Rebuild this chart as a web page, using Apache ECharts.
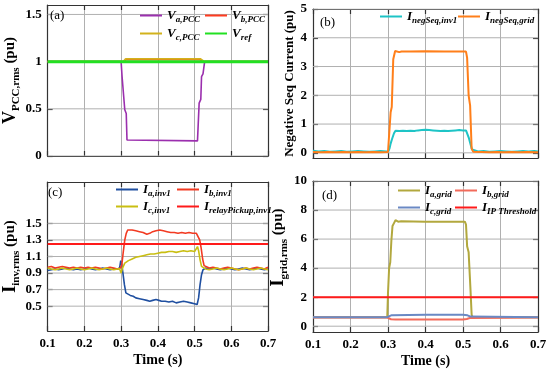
<!DOCTYPE html>
<html><head><meta charset="utf-8">
<script src="https://cdn.jsdelivr.net/npm/echarts@6/dist/echarts.min.js"></script>
<style>html,body{margin:0;padding:0;background:#fff}#c{width:550px;height:369px}</style>
</head><body><div id="c"></div>
<script>
// ---------- data ----------
const timeTicks = [0.1, 0.2, 0.3, 0.4, 0.5, 0.6, 0.7];
const yTicksA = [0, 0.5, 1, 1.5];
const yTicksB = [0, 1, 2, 3, 4, 5];
const yTicksC = [0.5, 0.7, 0.9, 1.1, 1.3, 1.5];
const yTicksD = [0, 2, 4, 6, 8, 10];

// (a) PCC voltages
const vaPCC = [[0.1,1],[0.3,1],[0.3027,0.84],[0.307,0.83],[0.31,0.49],[0.314,0.45],[0.316,0.17],[0.318,0.16],[0.508,0.16],[0.51,0.17],[0.5125,0.56],[0.517,0.6],[0.519,0.84],[0.523,0.87],[0.5275,1],[0.7,1]];
const vbPCC = [[0.1,1],[0.306,1],[0.313,1.02],[0.515,1.02],[0.525,1],[0.7,1]];
const vcPCC = [[0.1,1],[0.306,1],[0.3125,1.03],[0.5155,1.03],[0.527,1],[0.7,1]];
const vRef = [[0.1,1],[0.7,1]];

// (b) negative sequence currents
const iNegInv1 = [[0.1,0.07],[0.115,0.05],[0.13,0.06],[0.145,0.04],[0.16,0.05],[0.175,0.06],[0.19,0.04],[0.205,0.05],[0.22,0.06],[0.235,0.05],[0.25,0.04],[0.265,0.05],[0.28,0.06],[0.295,0.05],[0.301,0.05],[0.304,0.15],[0.307,0.32],[0.311,0.49],[0.316,0.68],[0.32,0.77],[0.33,0.76],[0.34,0.77],[0.35,0.76],[0.36,0.77],[0.37,0.76],[0.38,0.78],[0.39,0.79],[0.4,0.8],[0.41,0.79],[0.42,0.78],[0.43,0.77],[0.44,0.76],[0.45,0.77],[0.46,0.76],[0.47,0.77],[0.48,0.78],[0.49,0.79],[0.5,0.78],[0.508,0.78],[0.512,0.72],[0.516,0.5],[0.52,0.3],[0.524,0.12],[0.528,0.06],[0.54,0.05],[0.555,0.06],[0.57,0.04],[0.585,0.05],[0.6,0.06],[0.615,0.05],[0.63,0.04],[0.645,0.05],[0.66,0.06],[0.675,0.05],[0.69,0.06],[0.7,0.05]];
const iNegGrid = [[0.1,0.03],[0.12,0.02],[0.14,0.03],[0.16,0.02],[0.18,0.03],[0.2,0.02],[0.22,0.03],[0.24,0.02],[0.26,0.03],[0.28,0.02],[0.3,0.03],[0.302,0.06],[0.307,1.41],[0.31,1.59],[0.314,3.25],[0.319,3.54],[0.324,3.6],[0.33,3.5],[0.336,3.52],[0.36,3.52],[0.4,3.53],[0.45,3.52],[0.508,3.52],[0.511,3.3],[0.515,2.0],[0.519,1.64],[0.523,0.15],[0.527,0.04],[0.55,0.03],[0.57,0.02],[0.59,0.03],[0.61,0.02],[0.63,0.03],[0.65,0.02],[0.67,0.03],[0.7,0.02]];

// (c) inverter currents
const iaInv1 = [[0.1,0.93],[0.11,0.94],[0.12,0.95],[0.13,0.94],[0.14,0.95],[0.15,0.96],[0.16,0.95],[0.17,0.94],[0.18,0.95],[0.19,0.94],[0.2,0.95],[0.21,0.96],[0.22,0.95],[0.23,0.94],[0.24,0.95],[0.25,0.96],[0.26,0.95],[0.27,0.94],[0.28,0.95],[0.29,0.95],[0.296,0.96],[0.299,1.05],[0.302,1.0],[0.305,0.9],[0.309,0.76],[0.313,0.66],[0.318,0.64],[0.325,0.63],[0.333,0.62],[0.34,0.6],[0.35,0.59],[0.36,0.58],[0.37,0.57],[0.378,0.56],[0.386,0.57],[0.395,0.58],[0.403,0.57],[0.41,0.56],[0.42,0.56],[0.43,0.55],[0.44,0.56],[0.45,0.54],[0.46,0.55],[0.47,0.56],[0.48,0.55],[0.49,0.54],[0.5,0.53],[0.507,0.52],[0.511,0.6],[0.515,0.76],[0.519,0.88],[0.523,0.94],[0.53,0.96],[0.54,0.95],[0.55,0.96],[0.56,0.95],[0.57,0.94],[0.58,0.95],[0.59,0.96],[0.6,0.95],[0.61,0.94],[0.62,0.95],[0.63,0.96],[0.64,0.95],[0.65,0.94],[0.66,0.95],[0.67,0.96],[0.68,0.95],[0.69,0.94],[0.7,0.95]];
const ibInv1 = [[0.1,0.97],[0.11,0.98],[0.12,0.96],[0.13,0.97],[0.14,0.98],[0.15,0.97],[0.16,0.96],[0.17,0.97],[0.18,0.96],[0.19,0.97],[0.2,0.96],[0.21,0.97],[0.22,0.96],[0.23,0.97],[0.24,0.96],[0.25,0.95],[0.26,0.96],[0.27,0.97],[0.28,0.96],[0.29,0.95],[0.298,0.96],[0.302,1.0],[0.306,1.16],[0.31,1.3],[0.314,1.38],[0.318,1.42],[0.323,1.43],[0.33,1.42],[0.34,1.41],[0.35,1.4],[0.36,1.39],[0.37,1.37],[0.378,1.38],[0.386,1.4],[0.395,1.41],[0.405,1.42],[0.415,1.41],[0.425,1.4],[0.435,1.39],[0.445,1.39],[0.455,1.38],[0.465,1.39],[0.475,1.38],[0.485,1.39],[0.495,1.38],[0.505,1.38],[0.51,1.36],[0.514,1.3],[0.518,1.2],[0.522,1.07],[0.526,0.99],[0.53,0.97],[0.54,0.96],[0.55,0.97],[0.56,0.96],[0.57,0.95],[0.58,0.96],[0.59,0.97],[0.6,0.96],[0.61,0.95],[0.62,0.94],[0.63,0.95],[0.64,0.96],[0.65,0.95],[0.66,0.96],[0.67,0.97],[0.68,0.96],[0.69,0.95],[0.7,0.97]];
const icInv1 = [[0.1,0.96],[0.11,0.95],[0.12,0.94],[0.13,0.95],[0.14,0.96],[0.15,0.95],[0.16,0.94],[0.17,0.95],[0.18,0.96],[0.19,0.95],[0.2,0.94],[0.21,0.95],[0.22,0.96],[0.23,0.95],[0.24,0.94],[0.25,0.95],[0.26,0.96],[0.27,0.95],[0.28,0.94],[0.29,0.95],[0.296,0.95],[0.3,0.9],[0.303,0.95],[0.306,0.98],[0.31,1.02],[0.315,1.04],[0.32,1.05],[0.33,1.07],[0.34,1.09],[0.35,1.1],[0.36,1.11],[0.37,1.12],[0.38,1.13],[0.39,1.13],[0.4,1.14],[0.41,1.15],[0.42,1.15],[0.43,1.16],[0.44,1.16],[0.45,1.15],[0.46,1.16],[0.47,1.17],[0.48,1.16],[0.49,1.17],[0.5,1.16],[0.505,1.18],[0.508,1.22],[0.511,1.17],[0.515,1.06],[0.519,0.98],[0.523,0.96],[0.53,0.95],[0.54,0.94],[0.55,0.95],[0.56,0.96],[0.57,0.95],[0.58,0.94],[0.59,0.95],[0.6,0.96],[0.61,0.95],[0.62,0.94],[0.63,0.95],[0.64,0.96],[0.65,0.95],[0.66,0.94],[0.67,0.95],[0.68,0.96],[0.69,0.95],[0.7,0.94]];
const iRelayPickup = [[0.1,1.25],[0.7,1.25]];

// (d) grid currents
const iaGrid = [[0.1,0.62],[0.298,0.62],[0.3,2.3],[0.303,4.0],[0.306,4.4],[0.309,5.9],[0.312,6.9],[0.316,7.1],[0.32,7.3],[0.323,7.35],[0.327,7.2],[0.33,7.15],[0.335,7.22],[0.4,7.2],[0.505,7.2],[0.508,7.0],[0.511,5.5],[0.515,5.1],[0.52,2.5],[0.523,0.8],[0.525,0.62],[0.7,0.62]];
const ibGrid = [[0.1,0.6],[0.298,0.6],[0.302,0.55],[0.308,0.48],[0.32,0.46],[0.5,0.46],[0.51,0.5],[0.518,0.56],[0.523,0.6],[0.7,0.6]];
const icGrid = [[0.1,0.62],[0.298,0.62],[0.303,0.7],[0.31,0.76],[0.4,0.79],[0.5,0.78],[0.512,0.75],[0.52,0.66],[0.523,0.62],[0.7,0.62]];
const iIPThreshold = [[0.1,2],[0.7,2]];

// ---------- styling / layout ----------
const FONT = 'Liberation Serif';
const AX = {color:'#333333', width:1.2};
const GRIDC = '#b0b0b0';
const GRIDW = 1;
const grids = [
  {left:43, top:5, width:225, height:151},
  {left:313, top:9, width:225, height:149},
  {left:42, top:182, width:226, height:149},
  {left:313, top:181, width:225, height:151}
];
const yRanges = [[0, 1.6], [-0.18, 5], [0.2, 2.0], [-0.4, 10]];
const yTickSets = [yTicksA, yTicksB, yTicksC, yTicksD];

function xAxesFor(gi, showLabels) {
  return [
    {type:'value', gridIndex:gi, min:0.1, max:0.7, interval:0.1, position:'bottom',
     axisLine:{show:true, onZero:false, lineStyle:AX},
     axisTick:{show:true, inside:true, length:5, lineStyle:AX},
     axisLabel:{show:showLabels, color:'#000', fontFamily:FONT, fontWeight:'bold', fontSize:13, margin:6, formatter:v=>v.toFixed(1)},
     splitLine:{show:true, lineStyle:{color:GRIDC, width:GRIDW, type:'solid', opacity:1}},
     name: showLabels ? 'Time (s)' : '', nameLocation:'middle', nameGap:22,
     nameTextStyle:{color:'#000', fontFamily:FONT, fontWeight:'bold', fontSize:14}},
    {type:'value', gridIndex:gi, min:0.1, max:0.7, interval:0.1, position:'top',
     axisLine:{show:true, onZero:false, lineStyle:AX},
     axisTick:{show:true, inside:true, length:5, lineStyle:AX},
     axisLabel:{show:false}, splitLine:{show:false}}
  ];
}
function yAxesFor(gi, ticks, name, gap, nameStyle) {
  const [min, max] = yRanges[gi];
  return [
    {type:'value', gridIndex:gi, min:min, max:max, position:'left',
     axisLine:{show:true, onZero:false, lineStyle:AX},
     axisTick:{show:true, inside:true, length:5, lineStyle:AX, customValues:ticks},
     axisLabel:{customValues:ticks, color:'#000', fontFamily:FONT, fontWeight:'bold', fontSize:13, margin:6},
     splitLine:{show:false},
     name:name, nameLocation:'middle', nameGap:gap, nameRotate:90, nameTextStyle:nameStyle},
    {type:'value', gridIndex:gi, min:min, max:max, position:'right',
     axisLine:{show:true, onZero:false, lineStyle:AX},
     axisTick:{show:true, inside:true, length:5, lineStyle:AX, customValues:ticks},
     axisLabel:{show:false}, splitLine:{show:false}}
  ];
}
const subName = () => ({
  color:'#000', fontFamily:FONT, fontWeight:'bold',
  rich:{
    m:{fontSize:18, fontWeight:'bold', fontFamily:FONT, color:'#000'},
    s:{fontSize:11, fontWeight:'bold', fontFamily:FONT, color:'#000', padding:[12,0,0,0]},
    n:{fontSize:15, fontWeight:'bold', fontFamily:FONT, color:'#000'},
    g:{width:18}
  }
});

const xAxis = [].concat(xAxesFor(0,false), xAxesFor(1,false), xAxesFor(2,true), xAxesFor(3,true));
const yAxis = [].concat(
  yAxesFor(0, yTicksA, '{m|V}{s|PCC,rms}{n| (pu)}', 22, subName()),
  yAxesFor(1, yTicksB, 'Negative Seq Current (pu)', 16, {color:'#000', fontFamily:FONT, fontWeight:'bold', fontSize:13}),
  yAxesFor(2, yTicksC, '{m|I}{s|inv,rms}{n| (pu)}', 24, subName()),
  yAxesFor(3, yTicksD, '{g| }{m|I}{s|grid,rms}{n| (pu)}', 21, subName())
);

// horizontal grid lines: one thin series per y tick value, placed through each panel's own scales
const gridSeries = [];
[0,1,2,3].forEach(gi => {
  yTickSets[gi].forEach(v => gridSeries.push([gi, [[0.1, v], [0.7, v]]]));
});
const gridLineSeries = gridSeries.map(([gi, d], k) => ({
  name:'gridline' + k, type:'line', data:d, xAxisIndex:gi*2, yAxisIndex:gi*2, z:2, silent:true, animation:false,
  symbol:'none', showSymbol:false, lineStyle:{color:GRIDC, width:GRIDW, opacity:1}, itemStyle:{color:GRIDC},
  emphasis:{disabled:true}
}));

function line(name, data, gi, color, width) {
  return {name:name, type:'line', data:data, xAxisIndex:gi*2, yAxisIndex:gi*2, z:3,
    symbol:'none', showSymbol:false, lineStyle:{color:color, width:width}, itemStyle:{color:color},
    animation:false, silent:true, clip:true};
}
const series = gridLineSeries.concat([
  line('Va', vaPCC, 0, '#9B2FAE', 1.6),
  line('Vb', vbPCC, 0, '#FF3B1F', 1.6),
  line('Vc', vcPCC, 0, '#D2B21C', 1.8),
  line('Vref', vRef, 0, '#22E022', 3),
  line('Ninv', iNegInv1, 1, '#1EC4C6', 2),
  line('Ngrid', iNegGrid, 1, '#FF7F1A', 2),
  line('Iainv', iaInv1, 2, '#1F4FA0', 1.6),
  line('Ibinv', ibInv1, 2, '#F23A22', 1.6),
  line('Icinv', icInv1, 2, '#C9BE12', 1.6),
  line('Irelay', iRelayPickup, 2, '#FF1A1A', 2),
  line('Iagrid', iaGrid, 3, '#B2A83E', 2),
  line('Ibgrid', ibGrid, 3, '#F26B5B', 2),
  line('Icgrid', icGrid, 3, '#6A89C4', 2),
  line('Ithr', iIPThreshold, 3, '#FF1A1A', 2)
]);

const legendText = {
  Va:['V','a,PCC'], Vb:['V','b,PCC'], Vc:['V','c,PCC'], Vref:['V','ref'],
  Ninv:['I','negSeq,inv1'], Ngrid:['I','negSeq,grid'],
  Iainv:['I','a,inv1'], Ibinv:['I','b,inv1'], Icinv:['I','c,inv1'], Irelay:['I','relayPickup,inv1'],
  Iagrid:['I','a,grid'], Ibgrid:['I','b,grid'], Icgrid:['I','c,grid'], Ithr:['I','IP Threshold']
};
const legendPos = [
  ['Va',140,15],['Vb',205,15],['Vc',140,33],['Vref',205,33],
  ['Ninv',380,16],['Ngrid',458,16],
  ['Iainv',116,189],['Ibinv',177,189],['Icinv',116,206],['Irelay',177,206],
  ['Iagrid',398,190],['Ibgrid',455,190],['Icgrid',398,207],['Ithr',455,207]
];
const legend = legendPos.map(([n,x,y]) => ({
  data:[n], left:x, top:y-6, itemWidth:22, itemHeight:2, itemGap:0, padding:0, icon:'rect',
  selectedMode:false,
  formatter: name => '{m|' + legendText[name][0] + '}{s|' + legendText[name][1] + '}',
  textStyle:{
    rich:{
      m:{fontSize:13, fontStyle:'italic', fontWeight:'bold', fontFamily:FONT, color:'#000'},
      s:{fontSize:9, fontStyle:'italic', fontWeight:'bold', fontFamily:FONT, color:'#000', padding:[9,0,0,0]}
    }
  }
}));

const panelTitles = [['(a)',50,9],['(b)',320,16],['(c)',48,186],['(d)',322,189]].map(([t,x,y]) => ({
  text:t, left:x, top:y, padding:0,
  textStyle:{fontFamily:FONT, fontWeight:'normal', fontSize:13, color:'#000'}
}));

const chart = echarts.init(document.getElementById('c'), null, {renderer:'canvas'});
chart.setOption({
  animation:false,
  backgroundColor:'#fff',
  title: panelTitles,
  grid: grids,
  xAxis: xAxis,
  yAxis: yAxis,
  legend: legend,
  series: series
});
</script>
</body></html>
